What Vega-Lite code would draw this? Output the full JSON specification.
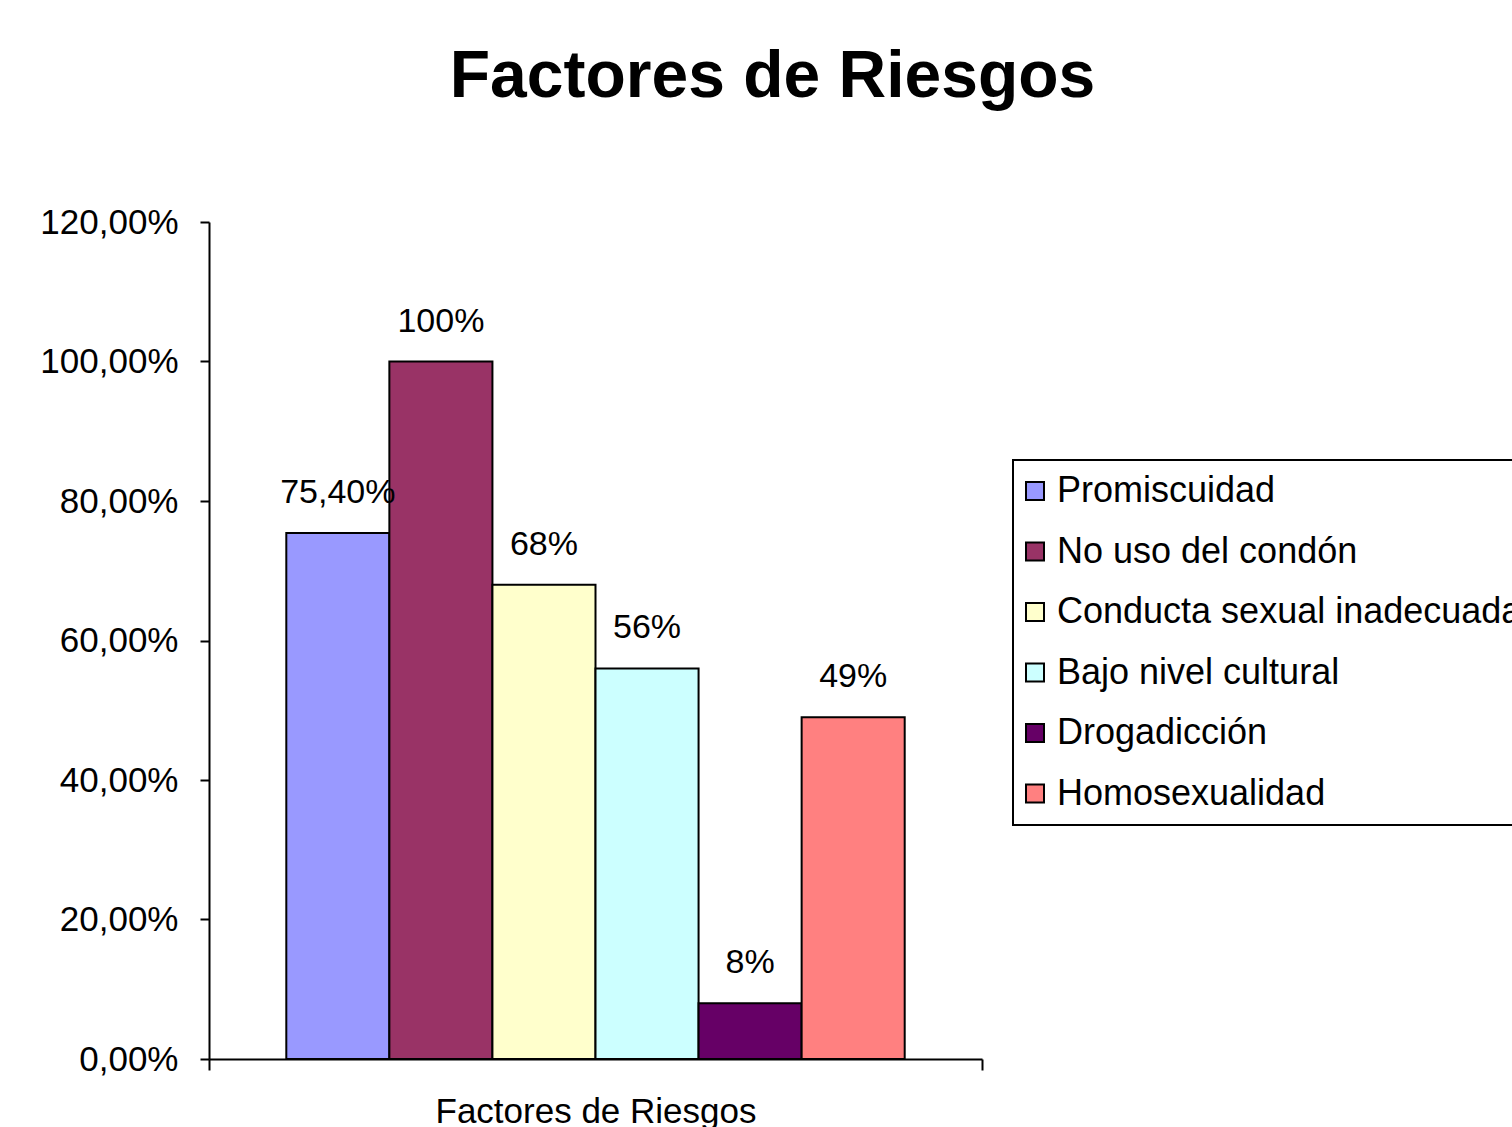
{
  "$schema": "https://vega.github.io/schema/vega-lite/v6.json",
  "width": 773,
  "height": 837,
  "autosize": "none",
  "padding": {"left": 209, "top": 222, "right": 530, "bottom": 68},
  "background": "white",
  "title": {
    "text": "Factores de Riesgos",
    "font": "Liberation Sans",
    "fontSize": 66,
    "fontWeight": "bold",
    "color": "black",
    "anchor": "middle",
    "baseline": "alphabetic",
    "dx": 177,
    "dy": -38
  },
  "data": {
    "values": [
      {"grupo": "Factores de Riesgos", "factor": "Promiscuidad", "valor": 0.754, "etiqueta": "75,40%"},
      {"grupo": "Factores de Riesgos", "factor": "No uso del condón", "valor": 1.0, "etiqueta": "100%"},
      {"grupo": "Factores de Riesgos", "factor": "Conducta sexual inadecuada", "valor": 0.68, "etiqueta": "68%"},
      {"grupo": "Factores de Riesgos", "factor": "Bajo nivel cultural", "valor": 0.56, "etiqueta": "56%"},
      {"grupo": "Factores de Riesgos", "factor": "Drogadicción", "valor": 0.08, "etiqueta": "8%"},
      {"grupo": "Factores de Riesgos", "factor": "Homosexualidad", "valor": 0.49, "etiqueta": "49%"}
    ]
  },
  "encoding": {
    "x": {
      "field": "grupo",
      "type": "nominal",
      "scale": {"paddingInner": 0, "paddingOuter": 0},
      "axis": {
        "title": null,
        "labelAngle": 0,
        "labelFont": "Liberation Sans",
        "labelFontSize": 35,
        "labelColor": "black",
        "labelPadding": 24,
        "labelLimit": 1000,
        "domainColor": "black",
        "domainWidth": 2,
        "tickColor": "black",
        "tickWidth": 2,
        "tickSize": 11,
        "tickBand": "extent"
      }
    },
    "xOffset": {
      "field": "factor",
      "type": "nominal",
      "sort": ["Promiscuidad", "No uso del condón", "Conducta sexual inadecuada", "Bajo nivel cultural", "Drogadicción", "Homosexualidad"],
      "scale": {"paddingInner": 0, "paddingOuter": 0.75}
    },
    "y": {
      "field": "valor",
      "type": "quantitative",
      "scale": {"domain": [0, 1.2], "nice": false},
      "axis": {
        "title": null,
        "values": [0, 0.2, 0.4, 0.6, 0.8, 1.0, 1.2],
        "labelExpr": "replace(format(datum.value, '.2%'), '.', ',')",
        "labelFont": "Liberation Sans",
        "labelFontSize": 35,
        "labelColor": "black",
        "labelPadding": 22,
        "domainColor": "black",
        "domainWidth": 2,
        "tickColor": "black",
        "tickWidth": 2,
        "tickSize": 9,
        "grid": false
      }
    }
  },
  "layer": [
    {
      "mark": {"type": "bar", "stroke": "black", "strokeWidth": 2, "opacity": 1},
      "encoding": {
        "color": {
          "field": "factor",
          "type": "nominal",
          "sort": ["Promiscuidad", "No uso del condón", "Conducta sexual inadecuada", "Bajo nivel cultural", "Drogadicción", "Homosexualidad"],
          "scale": {
            "domain": ["Promiscuidad", "No uso del condón", "Conducta sexual inadecuada", "Bajo nivel cultural", "Drogadicción", "Homosexualidad"],
            "range": ["#9999FF", "#993366", "#FFFFCC", "#CCFFFF", "#660066", "#FF8080"]
          },
          "legend": {
            "title": null,
            "orient": "none",
            "legendX": 804,
            "legendY": 238,
            "padding": 13,
            "strokeColor": "black",
            "fillColor": "white",
            "symbolType": "square",
            "symbolSize": 324,
            "symbolOffset": -9,
            "symbolStrokeColor": "black",
            "symbolStrokeWidth": 2,
            "symbolOpacity": 1,
            "labelFont": "Liberation Sans",
            "labelFontSize": 36,
            "labelColor": "black",
            "labelOffset": 4,
            "labelLimit": 2000,
            "rowPadding": 24.5
          }
        }
      }
    },
    {
      "mark": {"type": "text", "baseline": "alphabetic", "dy": -30, "font": "Liberation Sans", "fontSize": 34, "color": "black"},
      "encoding": {
        "text": {"field": "etiqueta"}
      }
    }
  ],
  "config": {
    "view": {"stroke": null},
    "legend": {"strokeWidth": 2}
  }
}
